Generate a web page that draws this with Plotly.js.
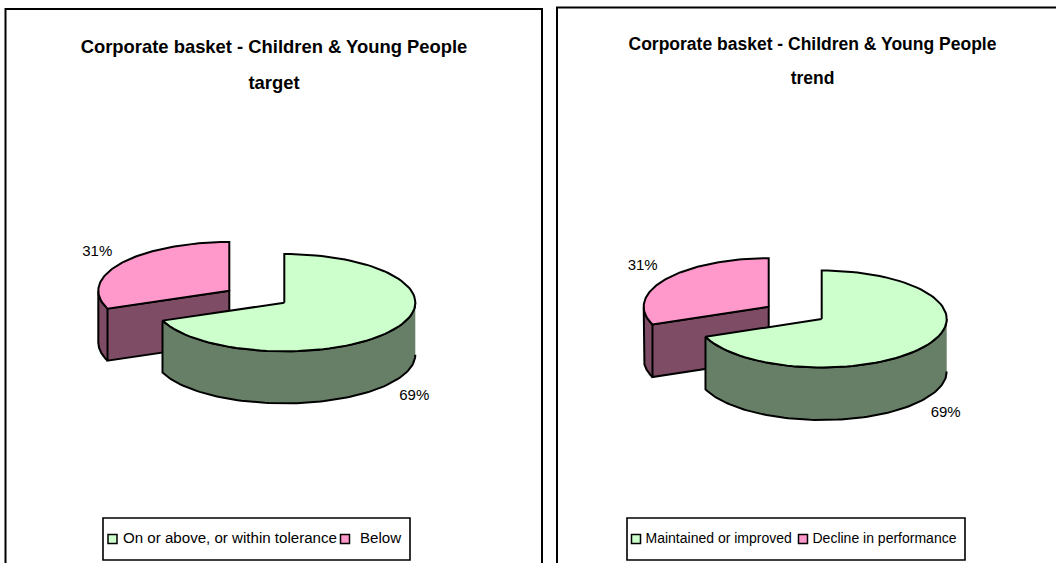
<!DOCTYPE html>
<html>
<head>
<meta charset="utf-8">
<script src="https://cdn.plot.ly/plotly-3.0.1.min.js"></script>
<style>html,body{margin:0;padding:0;background:#fff;overflow:hidden}#chart{width:1056px;height:563px}</style>
</head>
<body>
<div id="chart"></div>
<script>
var titleMain = "Corporate basket - Children & Young People";
var targetSubtitle = "target";
var targetCategories = ["On or above, or within tolerance", "Below"];
var targetValues = [69, 31];
var trendSubtitle = "trend";
var trendCategories = ["Maintained or improved", "Decline in performance"];
var trendValues = [69, 31];

var FONT = "Liberation Sans, Arial, sans-serif";
var TOP = ["#CCFFCC", "#FF99CC"], WALL = ["#667F66", "#7F4C66"];
var W = 1056, H = 563, SPLIT = 549;

var panels = [
  {ax: ["x", "y"], sub: targetSubtitle, cats: targetCategories, vals: targetValues,
   green: [284.3, 302.7], pink: [229.3, 290.7], a: 131, b: 48.7, depth: 52,
   labels: [[130, 94], [-132, -38]], titleX: 274, titleY: [48, 84], titleSize: 18.4,
   frame: [5.5, 9, 542], box: [103, 518, 410, 560], keySize: 15.1,
   key: [[112.5, 123], [345, 360]]},
  {ax: ["x2", "y2"], sub: trendSubtitle, cats: trendCategories, vals: trendValues,
   green: [821.7, 319], pink: [768.7, 306.7], a: 125, b: 48.5, depth: 52.5,
   labels: [[124, 94], [-126, -40]], titleX: 812.5, titleY: [46, 80], titleSize: 17.5,
   frame: [557, 7.5, 1060], box: [627, 518, 965, 560], keySize: 14,
   key: [[636, 645.5], [803, 812.5]]}
];

function arc(c, p, from, to) {
  var xs = [], ys = [], n = 90;
  for (var i = 0; i <= n; i++) {
    var t = (from + (to - from) * i / n) * Math.PI / 180;
    xs.push(c[0] + p.a * Math.sin(t));
    ys.push(c[1] - p.b * Math.cos(t));
  }
  return [xs, ys];
}

var traces = [], shapes = [];
function poly(p, xs, ys, fill) {
  traces.push({type: "scatter", mode: "lines", x: xs, y: ys, xaxis: p.ax[0], yaxis: p.ax[1],
    fill: "toself", fillcolor: fill, line: {color: "#000", width: 2}, hoverinfo: "skip", showlegend: false});
}
function text(p, x, y, s, size, pos, bold) {
  traces.push({type: "scatter", mode: "text", x: [x], y: [y], text: [bold ? "<b>" + s + "</b>" : s],
    textposition: pos, textfont: {family: FONT, size: size, color: "#000"}, xaxis: p.ax[0], yaxis: p.ax[1],
    cliponaxis: false, hoverinfo: "skip", showlegend: false});
}

panels.forEach(function (p) {
  var total = p.vals[0] + p.vals[1];
  var cut = p.vals[0] / total * 360;

  var pc = p.pink, s = arc(pc, p, cut, 270);
  var xs = s[0].concat(s[0].slice().reverse());
  var ys = s[1].concat(s[1].slice().reverse().map(function (v) { return v + p.depth; }));
  poly(p, xs, ys, WALL[1]);
  var corner = arc(pc, p, cut, cut);
  poly(p, [corner[0][0], pc[0], pc[0], corner[0][0], corner[0][0]],
          [corner[1][0], pc[1], pc[1] + p.depth, corner[1][0] + p.depth, corner[1][0]], WALL[1]);
  var t = arc(pc, p, cut, 360);
  poly(p, [pc[0]].concat(t[0], [pc[0]]), [pc[1]].concat(t[1], [pc[1]]), TOP[1]);

  var gc = p.green, r = arc(gc, p, 90, cut);
  poly(p, r[0].concat(r[0].slice().reverse()),
          r[1].concat(r[1].slice().reverse().map(function (v) { return v + p.depth; })), WALL[0]);
  var g = arc(gc, p, 0, cut);
  poly(p, [gc[0]].concat(g[0], [gc[0]]), [gc[1]].concat(g[1], [gc[1]]), TOP[0]);

  text(p, gc[0] + p.labels[0][0], gc[1] + p.labels[0][1], Math.round(p.vals[0] / total * 100) + "%", 15, "middle center");
  text(p, pc[0] + p.labels[1][0], pc[1] + p.labels[1][1], Math.round(p.vals[1] / total * 100) + "%", 15, "middle center");

  text(p, p.titleX, p.titleY[0], titleMain, p.titleSize, "middle center", true);
  text(p, p.titleX, p.titleY[1], p.sub, p.titleSize, "middle center", true);

  var ky = (p.box[1] + p.box[3]) / 2;
  p.key.forEach(function (k, i) {
    traces.push({type: "scatter", mode: "markers", x: [k[0]], y: [ky], xaxis: p.ax[0], yaxis: p.ax[1],
      marker: {symbol: "square", size: 9, color: TOP[i], line: {color: "#000", width: 1.5}},
      cliponaxis: false, hoverinfo: "skip", showlegend: false, name: p.cats[i]});
    text(p, k[1], ky, p.cats[i], p.keySize, "middle right");
  });

  shapes.push({type: "path", xref: "paper", yref: "paper", layer: "below",
    path: "M" + p.frame[0] / W + "," + 0 + "L" + p.frame[0] / W + "," + (1 - p.frame[1] / H) +
          "L" + p.frame[2] / W + "," + (1 - p.frame[1] / H) + "L" + p.frame[2] / W + "," + 0,
    line: {color: "#000", width: 2}});
  shapes.push({type: "rect", xref: "paper", yref: "paper", layer: "below",
    x0: p.box[0] / W, x1: p.box[2] / W, y0: 1 - p.box[3] / H, y1: 1 - p.box[1] / H,
    line: {color: "#000", width: 1.6}, fillcolor: "#fff"});
});

function hidden(range, dom) {
  return {range: range, domain: dom, visible: false, fixedrange: true};
}
var layout = {
  width: W, height: H, autosize: false, margin: {l: 0, r: 0, t: 0, b: 0},
  paper_bgcolor: "#fff", plot_bgcolor: "rgba(0,0,0,0)", showlegend: false,
  xaxis: hidden([0, SPLIT], [0, SPLIT / W]),
  yaxis: hidden([H, 0], [0, 1]),
  xaxis2: hidden([SPLIT, W], [SPLIT / W, 1]),
  yaxis2: hidden([H, 0], [0, 1]),
  shapes: shapes
};
Plotly.newPlot("chart", traces, layout, {displayModeBar: false, staticPlot: true});
</script>
</body>
</html>
